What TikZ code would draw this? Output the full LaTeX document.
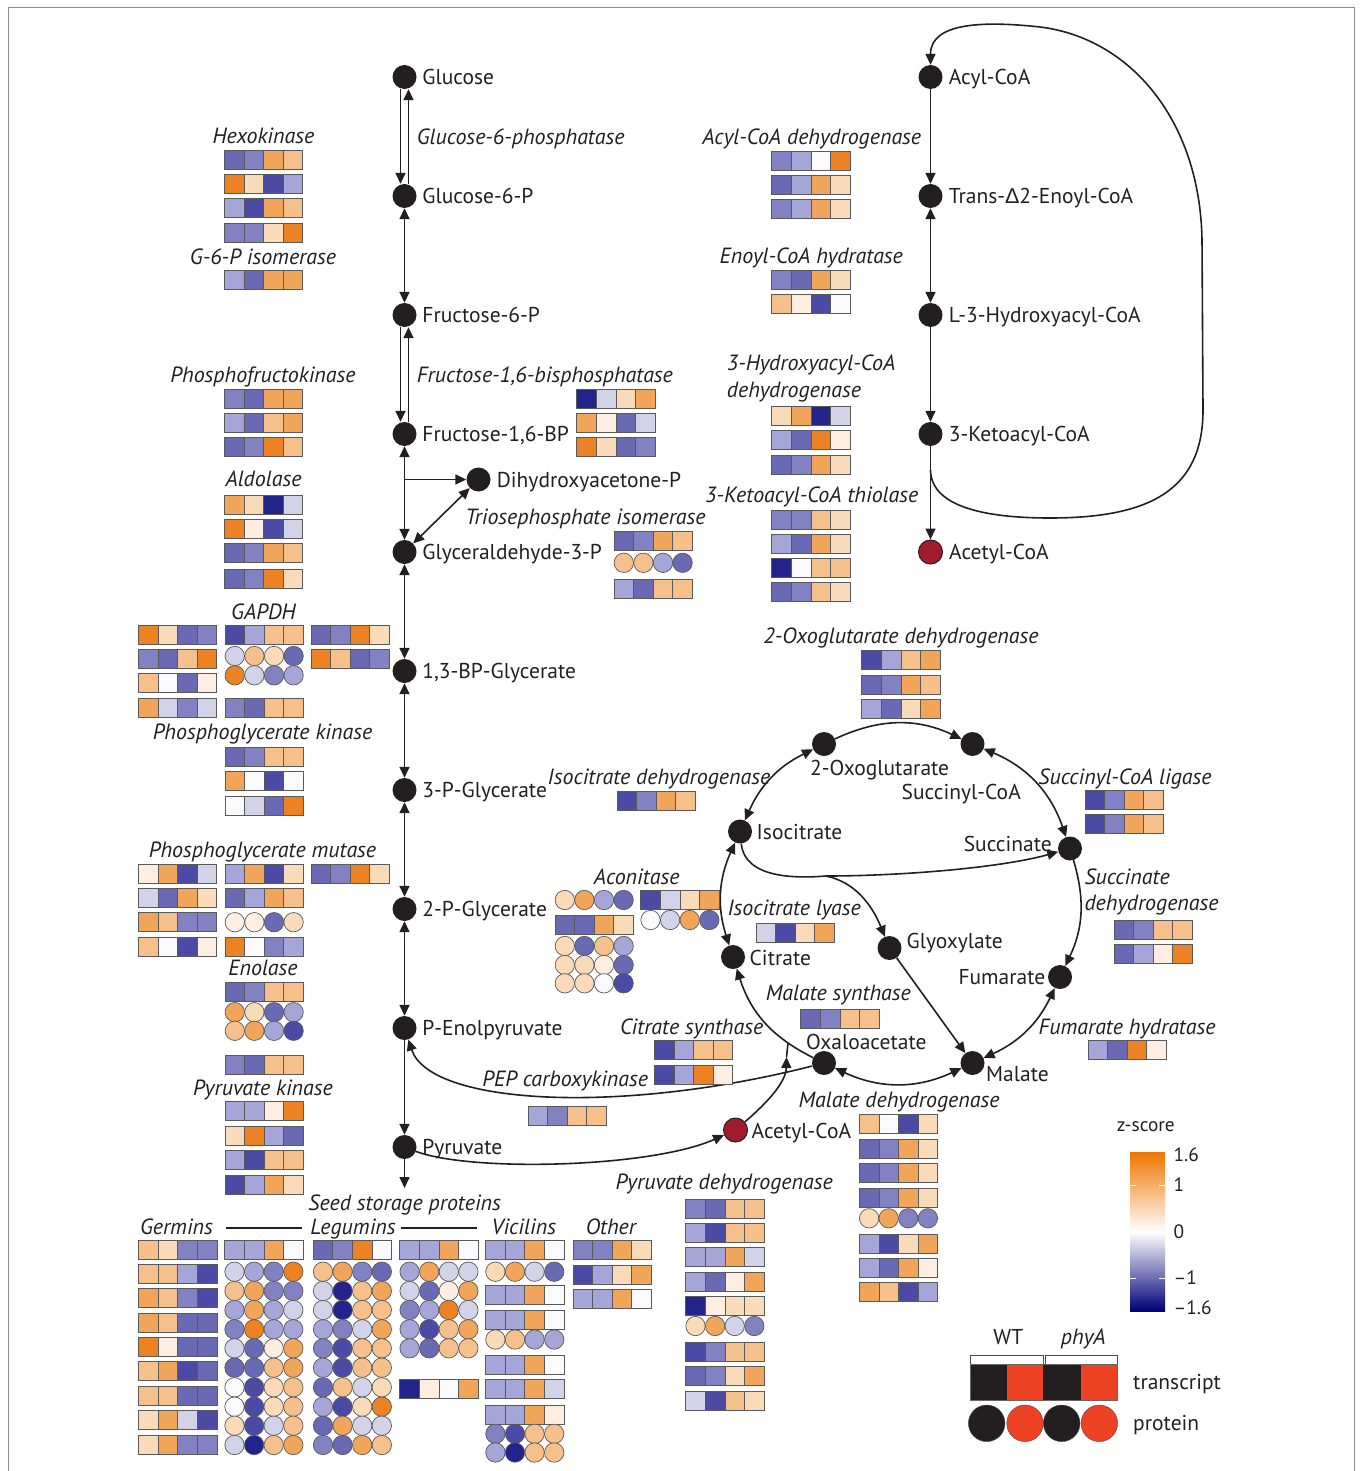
\documentclass[tikz,border=0pt]{standalone}
\usepackage{fontspec}
\setmainfont{PT Sans}
\newfontfamily\grk{Liberation Sans}
\usetikzlibrary{arrows.meta,positioning}

\definecolor{ink}{RGB}{35,31,32}
\definecolor{acred}{RGB}{160,28,45}
\definecolor{legred}{RGB}{238,66,36}
\definecolor{zN}{RGB}{35,35,140}
\definecolor{zD}{RGB}{75,75,165}
\definecolor{zB}{RGB}{105,105,180}
\definecolor{zM}{RGB}{130,130,195}
\definecolor{zL}{RGB}{165,165,215}
\definecolor{zx}{RGB}{210,210,232}
\definecolor{zW}{RGB}{250,250,252}
\definecolor{zc}{RGB}{253,238,225}
\definecolor{zp}{RGB}{249,218,185}
\definecolor{zq}{RGB}{245,192,140}
\definecolor{zo}{RGB}{240,165,90}
\definecolor{zR}{RGB}{236,130,35}
\definecolor{barO}{RGB}{238,118,0}
\definecolor{barQ}{RGB}{245,190,140}
\definecolor{barL}{RGB}{150,150,205}
\definecolor{barN}{RGB}{0,0,120}

\tikzset{
  met/.style={circle, fill=ink, minimum size=24pt, inner sep=0pt},
  acetyl/.style={met, fill=acred, draw=ink, line width=1pt},
  mtext/.style={font=\fontsize{21.5}{25}\selectfont, text=ink, inner sep=0pt, text height=15pt, text depth=0pt},
  enz/.style={mtext, font=\fontsize{22}{26}\selectfont\itshape},
  small/.style={mtext, font=\fontsize{19.3}{23}\selectfont, text height=13.5pt},
  link/.style={draw=ink, line width=1.6pt},
  arr/.style={link, -{Triangle[length=11pt,width=10pt]}},
  arr2/.style={link, {Triangle[length=11pt,width=10pt]}-{Triangle[length=11pt,width=10pt]}},
  cellbox/.style={draw=black!65, line width=0.7pt},
}

% x-left, list of y/type/c1/c2/c3/c4 (type s = transcript, c = protein)
\newcommand\heat[2]{%
  \foreach \hY/\hT/\hA/\hB/\hC/\hD in {#2}{%
    \foreach \hZ [count=\hI from 0] in {\hA,\hB,\hC,\hD}{%
      \if\hT s
        \filldraw[cellbox, fill=z\hZ] ({#1+\hI*19.6}, \hY-9.5) rectangle ++(19.6,19);
      \else
        \filldraw[cellbox, fill=z\hZ] ({#1+\hI*19.6+9.8}, \hY) circle[radius=9.7];
      \fi
    }%
  }%
}

\begin{document}
\begin{tikzpicture}[x=1pt, y=-1pt]
  \useasboundingbox (0,0) rectangle (1361,1471);
  \draw[black!45, line width=0.8pt] (8,1471) -- (8,7.5) -- (1354,7.5) -- (1354,1471);

  % glycolysis
  \node[met] (glc)   at (404.5,77)   {};
  \node[met] (g6p)   at (404.5,196)  {};
  \node[met] (f6p)   at (404.5,315)  {};
  \node[met] (f16bp) at (404.5,434)  {};
  \node[met] (g3p)   at (404.5,552)  {};
  \node[met] (bpg)   at (404.5,671)  {};
  \node[met] (pga3)  at (404.5,790)  {};
  \node[met] (pga2)  at (404.5,909)  {};
  \node[met] (pep)   at (404.5,1028) {};
  \node[met] (pyr)   at (404.5,1147) {};
  \node[met] (dhap)  at (478.5,479.5) {};

  \node[mtext, right=5.5pt of glc]   (glc-l)   {Glucose};
  \node[mtext, right=5.5pt of g6p]   (g6p-l)   {Glucose-6-P};
  \node[mtext, right=5.5pt of f6p]   (f6p-l)   {Fructose-6-P};
  \node[mtext, right=5.5pt of f16bp] (f16bp-l) {Fructose-1,6-BP};
  \node[mtext, right=5.5pt of g3p]   (g3p-l)   {Glyceraldehyde-3-P};
  \node[mtext, right=5.5pt of bpg]   (bpg-l)   {1,3-BP-Glycerate};
  \node[mtext, right=5.5pt of pga3]  (pga3-l)  {3-P-Glycerate};
  \node[mtext, right=5.5pt of pga2]  (pga2-l)  {2-P-Glycerate};
  \node[mtext, right=5.5pt of pep]   (pep-l)   {P-Enolpyruvate};
  \node[mtext, right=5.5pt of pyr]   (pyr-l)   {Pyruvate};
  \node[mtext, right=6pt of dhap]    (dhap-l)  {Dihydroxyacetone-P};

  \draw[arr] ([xshift=-4pt]glc.south) -- ([xshift=-4pt]g6p.north);
  \draw[arr] ([xshift=4pt]g6p.north) -- ([xshift=4pt]glc.south);
  \draw[arr2] (g6p) -- (f6p);
  \draw[arr] ([xshift=-4pt]f6p.south) -- ([xshift=-4pt]f16bp.north);
  \draw[arr] ([xshift=4pt]f16bp.north) -- ([xshift=4pt]f6p.south);
  \draw[arr2] (f16bp) -- (g3p);
  \coordinate (dhapfork) at (404.5,479.5);
  \draw[arr] (dhapfork) -- (dhap);
  \draw[arr2] (dhap) -- (g3p);
  \draw[arr2] (g3p) -- (bpg);
  \draw[arr2] (bpg) -- (pga3);
  \draw[arr2] (pga3) -- (pga2);
  \draw[arr2] (pga2) -- (pep);
  \draw[arr] (pep) -- (pyr);
  \coordinate (seedtop) at (404.5,1188);
  \draw[arr] (pyr) -- (seedtop);

  % beta-oxidation
  \node[met] (acyl)    at (930.5,77)  {};
  \node[met] (enoyl)   at (930.5,196) {};
  \node[met] (hydroxy) at (930.5,315) {};
  \node[met] (keto)    at (930.5,434) {};
  \node[acetyl] (acoa1) at (930.5,552) {};

  \node[mtext, right=6pt of acyl]    (acyl-l)    {Acyl-CoA};
  \node[mtext, right=6pt of enoyl]   (enoyl-l)   {Trans-{\grk Δ}2-Enoyl-CoA};
  \node[mtext, right=6pt of hydroxy] (hydroxy-l) {L-3-Hydroxyacyl-CoA};
  \node[mtext, right=6pt of keto]    (keto-l)    {3-Ketoacyl-CoA};
  \node[mtext, right=6pt of acoa1]   (acoa1-l)   {Acetyl-CoA};

  \draw[arr] (acyl) -- (enoyl);
  \draw[arr2] (enoyl) -- (hydroxy);
  \draw[arr] (hydroxy) -- (keto);
  \draw[arr] (keto) -- (acoa1);
  \coordinate (ketoout) at (930.5,470);
  \draw[arr] (ketoout) .. controls (931,505) and (980,518) .. (1050,518)
    .. controls (1150,518) and (1203,490) .. (1203,410) -- (1202,240)
    .. controls (1200,120) and (1130,38) .. (1040,27)
    .. controls (985,21) and (930.5,22) .. (acyl.north);

  % TCA and glyoxylate cycle
  \node[met] (og)   at (824,744)     {};
  \node[met] (sca)  at (972.5,744)   {};
  \node[met] (suc)  at (1070,848.5)  {};
  \node[met] (fum)  at (1060,977)    {};
  \node[met] (mal)  at (972.5,1063)  {};
  \node[met] (oaa)  at (824,1063)    {};
  \node[met] (cit)  at (733,957)     {};
  \node[met] (icit) at (740,831.5)   {};
  \node[met] (glx)  at (889.5,948)   {};
  \node[acetyl] (acoa2) at (735.5,1130) {};

  \node[mtext, anchor=west] (og-l)   at (810,768)    {2-Oxoglutarate};
  \node[mtext, anchor=east] (sca-l)  at (1021,791.5) {Succinyl-CoA};
  \node[mtext, anchor=east] (suc-l)  at (1052,843.5) {Succinate};
  \node[mtext, anchor=east] (fum-l)  at (1045.5,977) {Fumarate};
  \node[mtext, anchor=west] (mal-l)  at (986,1073.5) {Malate};
  \node[mtext, anchor=west] (oaa-l)  at (806,1041.5) {Oxaloacetate};
  \node[mtext, anchor=west] (cit-l)  at (749.5,957.5) {Citrate};
  \node[mtext, anchor=west] (icit-l) at (756.5,831.5) {Isocitrate};
  \node[mtext, anchor=west] (glx-l)  at (906.5,941)  {Glyoxylate};
  \node[mtext, anchor=west] (acoa2-l) at (751.5,1130.5) {Acetyl-CoA};

  \draw[arr]  (og) to[bend left=25] (sca);
  \draw[arr2] (sca) to[bend left=24] (suc);
  \draw[arr]  (suc) to[bend left=21] (fum);
  \draw[arr2] (fum) to[bend left=20] (mal);
  \draw[arr2] (mal) to[bend left=25] (oaa);
  \draw[arr]  (oaa) to[bend left=23] (cit);
  \draw[arr2] (cit) to[bend left=21] (icit);
  \draw[arr2] (icit) to[bend left=20] (og);
  \coordinate (shunt) at (826,876);
  \draw[arr] (icit) .. controls (745,880) and (800,878) .. (shunt)
    .. controls (900,876) and (1000,868) .. (suc);
  \draw[arr] (shunt) .. controls (855,882) and (872,905) .. (glx);
  \draw[arr] (glx) -- (mal);
  \coordinate (cstip) at (786.5,1057);
  \coordinate (csjoin) at (788,1043);
  \draw[arr] (acoa2) .. controls (768,1102) and (786,1082) .. (cstip);
  \draw[link] (cstip) -- (csjoin);
  \draw[arr] (pyr) .. controls (470,1172) and (650,1168) .. (acoa2);
  \draw[arr] (oaa) .. controls (620,1115) and (430,1105) .. (pep);

  % enzyme labels
  \node[enz] (hk-l)    at (263.5,135.7)  {Hexokinase};
  \node[enz] (gpi-l)   at (263,256.7)    {G-6-P isomerase};
  \node[enz] (pfk-l)   at (263,375)      {Phosphofructokinase};
  \node[enz] (ald-l)   at (263.5,479.3)  {Aldolase};
  \node[enz] (gapdh-l) at (263.5,611.7)  {GAPDH};
  \node[enz] (pgk-l)   at (262.5,731.7)  {Phosphoglycerate kinase};
  \node[enz] (pgm-l)   at (262.5,850)    {Phosphoglycerate mutase};
  \node[enz] (eno-l)   at (263,968.3)    {Enolase};
  \node[enz] (pk-l)    at (263,1088.3)   {Pyruvate kinase};
  \node[enz, anchor=west] (g6pase-l) at (416.7,137) {Glucose-6-phosphatase};
  \node[enz, anchor=west] (fbpase-l) at (416.7,375) {Fructose-1,6-bisphosphatase};
  \node[enz] (tpi-l)   at (585.5,516.8)  {Triosephosphate isomerase};
  \node[enz] (acad-l)  at (811.7,136.7)  {Acyl-CoA dehydrogenase};
  \node[enz] (ech-l)   at (811.3,256)    {Enoyl-CoA hydratase};
  \node[enz, anchor=west] (had-l)  at (726.7,363.3) {3-Hydroxyacyl-CoA};
  \node[enz, anchor=west] (had-l2) at (726.7,390)   {dehydrogenase};
  \node[enz] (kat-l)   at (811.7,495)    {3-Ketoacyl-CoA thiolase};
  \node[enz] (ogdh-l)  at (901,636)      {2-Oxoglutarate dehydrogenase};
  \node[enz] (icdh-l)  at (659,777)      {Isocitrate dehydrogenase};
  \node[enz] (scl-l)   at (1125,776.7)   {Succinyl-CoA ligase};
  \node[enz, anchor=west] (sdh-l)  at (1084.3,876.7) {Succinate};
  \node[enz, anchor=west] (sdh-l2) at (1084.3,903.3) {dehydrogenase};
  \node[enz] (aco-l)   at (636.7,876.7)  {Aconitase};
  \node[enz] (icl-l)   at (794.2,908.3)  {Isocitrate lyase};
  \node[enz] (ms-l)    at (838.3,993.3)  {Malate synthase};
  \node[enz] (cs-l)    at (691.7,1026.7) {Citrate synthase};
  \node[enz, anchor=west] (fh-l) at (1038.3,1026.7) {Fumarate hydratase};
  \node[enz, anchor=east] (pepck-l) at (648.3,1079.3) {PEP carboxykinase};
  \node[enz] (mdh-l)   at (899,1100)     {Malate dehydrogenase};
  \node[enz] (pdh-l)   at (724.2,1181.7) {Pyruvate dehydrogenase};
  \node[enz] (ssp-l)   at (404.7,1203.3) {Seed storage proteins};
  \node[enz] (ger-l)   at (176.5,1227.3) {Germins};
  \node[enz] (leg-l)   at (353,1227.3)   {Legumins};
  \node[enz] (vic-l)   at (523.8,1227.3) {Vicilins};
  \node[enz] (oth-l)   at (610.9,1227.3) {Other};
  \draw[ink, line width=1.2pt] (225.7,1228) -- (302.4,1228) (400.5,1228) -- (476.5,1228);

  % heat maps
  \heat{224.3}{160/s/B/M/o/q,184/s/R/p/D/L,208.3/s/L/D/o/q,233.2/s/M/M/p/R,279.5/s/L/B/o/o}
  \heat{224.3}{398.7/s/M/B/o/o,422.8/s/L/B/q/o,446.7/s/B/M/R/q}
  \heat{224.3}{505/s/o/p/N/x,528.8/s/R/c/D/x,553/s/B/M/o/q,578.5/s/B/M/R/p}
  \heat{138.3}{634.5/s/R/p/B/M,658.8/s/M/B/q/R,682.5/s/q/W/B/c,707.8/s/o/x/M/x}
  \heat{225}{634.5/s/D/L/q/q,656/c/x/q/p/B,675.3/c/R/x/M/L,707.8/s/M/B/q/q}
  \heat{311}{634.5/s/B/M/R/p,658.8/s/R/q/B/M}
  \heat{225}{756.7/s/B/M/q/q,781.2/s/o/W/D/W,805.5/s/W/x/B/R}
  \heat{138.3}{873.8/s/c/o/D/x,898/s/x/B/o/p,922.2/s/o/q/M/M,947/s/q/W/D/c}
  \heat{225}{873.8/s/L/o/D/p,898/s/B/L/o/q,922.2/c/c/c/B/p,947/s/R/W/M/L}
  \heat{311}{873.8/s/B/M/R/p}
  \heat{225}{991.7/s/B/M/q/q,1012.2/c/o/p/B/L,1030.8/c/q/o/L/D,1065/s/M/B/q/q}
  \heat{225}{1111.2/s/L/L/c/R,1135.5/s/p/R/L/B,1159.5/s/L/D/q/q,1184.5/s/D/L/o/p}
  \heat{576.7}{398.5/s/N/x/p/o,422.8/s/o/c/B/x,447/s/R/p/B/M}
  \heat{614}{540.8/s/B/M/o/q,562.8/c/q/q/L/B,588.8/s/L/B/q/q}
  \heat{771.7}{160.5/s/M/L/W/R,184.5/s/B/L/o/p,208.5/s/M/L/o/p}
  \heat{771.7}{279.5/s/M/B/o/p,303.8/s/q/c/D/W}
  \heat{771.7}{415.5/s/p/o/N/x,440/s/L/B/R/c,464.5/s/B/M/o/p}
  \heat{771.7}{519.5/s/M/M/q/p,543.8/s/L/B/o/p,567.8/s/N/W/q/q,592.2/s/B/M/q/p}
  \heat{861.7}{660/s/D/L/q/o,684.5/s/B/M/o/q,708.8/s/L/B/p/o}
  \heat{617}{801/s/D/M/o/q}
  \heat{1085}{800/s/D/M/o/q,824.2/s/D/M/o/q}
  \heat{1114}{930/s/B/M/q/q,953.8/s/B/L/c/R}
  \heat{555}{900/c/p/o/L/B,924.5/s/B/B/o/p,946/c/p/B/q/L,965/c/p/p/c/B,983.3/c/p/p/W/D}
  \heat{640.7}{899.5/s/D/x/p/o,920/c/W/x/o/B}
  \heat{756}{932.5/s/x/D/p/o}
  \heat{800.7}{1018.8/s/B/M/q/q}
  \heat{654.3}{1050.2/s/D/L/q/q,1074.5/s/D/L/R/c}
  \heat{528}{1116.2/s/L/M/q/q}
  \heat{1088}{1050/s/L/B/R/c}
  \heat{859.3}{1123.8/s/q/W/D/p,1148.8/s/B/M/o/p,1173.3/s/B/M/o/p,1198.3/s/B/M/o/p,
    1218.3/c/p/o/M/M,1243.8/s/L/D/p/o,1267.8/s/L/B/o/c,1292.2/s/o/q/D/L}
  \heat{685.7}{1208.7/s/M/B/q/q,1232.8/s/L/D/q/q,1257.2/s/L/L/o/x,1282.2/s/L/B/c/o,
    1306.2/s/N/c/p/p,1326/c/p/o/x/M,1352.2/s/D/M/q/q,1376.2/s/B/M/p/o,1401.2/s/x/D/q/p}
  \heat{138.5}{1250/s/q/p/M/M,1273.8/s/q/q/L/D,1297.8/s/o/q/M/D,1322.8/s/o/q/B/B,
    1347.2/s/R/c/B/B,1371.2/s/q/o/D/B,1395.5/s/q/q/B/B,1420/s/p/o/x/D,1444.5/s/p/o/M/M}
  \heat{224.7}{1250/s/L/L/o/W,1271.7/c/x/L/M/R,1291/c/q/o/M/M,1310/c/L/o/L/x,
    1329.3/c/M/R/L/L,1348.3/c/x/B/c/o,1367.7/c/B/B/q/o,1387.3/c/W/D/p/q,
    1406.7/c/W/D/p/q,1425.7/c/p/D/x/q,1445/c/x/N/q/o}
  \heat{313.2}{1250/s/B/M/R/W,1271.7/c/q/o/M/B,1291/c/x/N/q/o,1310/c/x/N/q/q,
    1329.3/c/L/M/x/o,1348.3/c/M/D/q/q,1367.7/c/L/D/q/q,1387.3/c/B/q/x/p,
    1406.7/c/L/D/p/R,1425.7/c/B/o/x/x,1445/c/M/B/o/q}
  \heat{399.8}{1250/s/L/L/o/W,1271.7/c/L/o/x/x,1291/c/x/B/c/o,1310/c/M/L/R/x,
    1329.3/c/L/D/q/o,1348.3/c/L/B/q/q,1388.8/s/N/c/W/o}
  \heat{485.6}{1250/s/L/L/o/W,1271.7/c/p/o/x/B,1294.5/s/L/L/o/W,1319.5/s/L/L/o/W,
    1339.5/c/p/q/L/L,1365/s/L/L/o/W,1388.8/s/L/L/o/x,1414.5/s/L/L/o/c,
    1433.8/c/M/D/q/q,1452.5/c/L/N/q/q}
  \heat{572.9}{1250/s/M/M/o/p,1274.7/s/D/L/p/o,1298.7/s/L/L/o/W}

  % legend
  \node[small] (zs-l) at (1145.8,1125) {z-score};
  \shade[top color=barO, middle color=barQ, bottom color=white] (1130,1152) rectangle (1165,1232);
  \shade[top color=white, middle color=barL, bottom color=barN] (1130,1232) rectangle (1165,1311);
  \draw[white, line width=1pt] (1130,1185) -- (1136,1185) (1159,1185) -- (1165,1185)
    (1130,1278) -- (1136,1278) (1159,1278) -- (1165,1278);
  \node[small, anchor=west] (t16)  at (1173.5,1155)  {1.6};
  \node[small, anchor=west] (t1)   at (1173.5,1185)  {1};
  \node[small, anchor=west] (t0)   at (1173.5,1232)  {0};
  \node[small, anchor=west] (tm1)  at (1173.5,1278)  {–1};
  \node[small, anchor=west] (tm16) at (1173.5,1308)  {–1.6};
  \node[mtext] (wt-l)   at (1008.3,1337) {WT};
  \node[enz]   (phya-l) at (1083.3,1337) {phyA};
  \draw[black!70, line width=0.8pt] (970,1364) -- (970,1355) -- (1043,1355) -- (1043,1364)
    (1045,1364) -- (1045,1355) -- (1117.3,1355) -- (1117.3,1364);
  \fill[ink] (970,1364) rectangle (1006.7,1400);
  \fill[legred] (1006.7,1364) rectangle (1043.3,1400);
  \fill[ink] (1043.3,1364) rectangle (1080.7,1400);
  \fill[legred] (1080.7,1364) rectangle (1117.3,1400);
  \draw[black!60, line width=0.8pt] (970,1364) rectangle (1117.3,1400);
  \filldraw[fill=ink, draw=black!70] (986.7,1423.3) circle[radius=18.3];
  \filldraw[fill=legred, draw=black!70] (1025,1423.3) circle[radius=18.3];
  \filldraw[fill=ink, draw=black!70] (1061.7,1423.3) circle[radius=18.3];
  \filldraw[fill=legred, draw=black!70] (1099.3,1423.3) circle[radius=18.3];
  \node[mtext, anchor=west] (tr-l) at (1133,1382) {transcript};
  \node[mtext, anchor=west] (pr-l) at (1133,1423) {protein};
\end{tikzpicture}
\end{document}
